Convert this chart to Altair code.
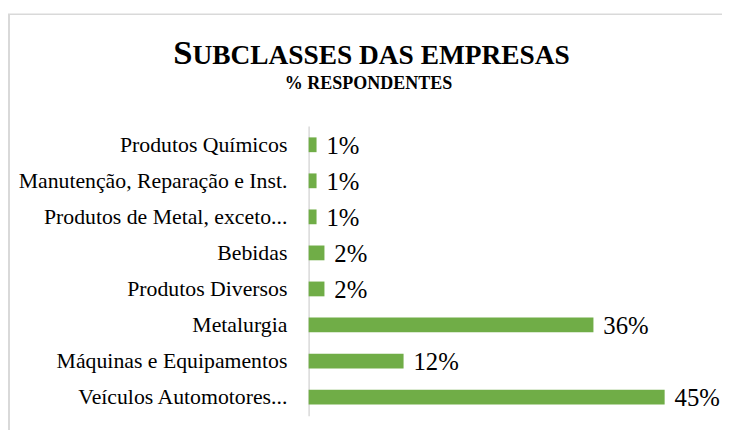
import altair as alt
import pandas as pd

categories = ["Produtos Químicos", "Manutenção, Reparação e Inst.", "Produtos de Metal, exceto...",
              "Bebidas", "Produtos Diversos", "Metalurgia", "Máquinas e Equipamentos",
              "Veículos Automotores..."]
values = [1, 1, 1, 2, 2, 36, 12, 45]
labels = [f"{v}%" for v in values]

title_first = "S"
title_rest = "UBCLASSES DAS EMPRESAS"
subtitle = "% RESPONDENTES"

df = pd.DataFrame({"cat": categories, "val": values, "label": labels})

FONT = "Liberation Serif"
PAD_LEFT = 304

base = alt.Chart(df).encode(
    y=alt.Y("cat:N", sort=categories,
            scale=alt.Scale(paddingInner=0.59, paddingOuter=0.315),
            axis=alt.Axis(title=None, labelFont=FONT, labelFontSize=22, labelColor="#000000",
                          labelPadding=22, ticks=False, domainColor="#d9d9d9", domainWidth=1.5,
                          labelLimit=400))
)

bars = base.mark_bar(color="#70AD47").encode(
    x=alt.X("val:Q", scale=alt.Scale(domain=[0, 45]), axis=None)
)

text = base.mark_text(align="left", dx=10, dy=9, font=FONT, fontSize=25, baseline="alphabetic",
                      color="#000000").encode(
    x=alt.X("val:Q"), text="label:N"
)

one = pd.DataFrame({"k": [0]})
left_border = alt.Chart(one).mark_rule(color="#d9d9d9", strokeWidth=2, clip=False).encode(
    x=alt.value(-PAD_LEFT + 1), y=alt.value(-113), y2=alt.value(330)
)
top_border = alt.Chart(one).mark_rule(color="#d9d9d9", strokeWidth=1.5, clip=False).encode(
    x=alt.value(-PAD_LEFT), x2=alt.value(430), y=alt.value(-113)
)

t1 = alt.Chart(one).mark_text(text=title_first, font=FONT, fontSize=35, fontWeight="bold",
                              align="left", baseline="alphabetic", color="#000000").encode(
    x=alt.value(175 - 8 - PAD_LEFT), y=alt.value(-63)
)
t2 = alt.Chart(one).mark_text(text=title_rest, font=FONT, fontSize=27.7, fontWeight="bold",
                              align="left", baseline="alphabetic", color="#000000").encode(
    x=alt.value(175 - 8 - PAD_LEFT + 19.5), y=alt.value(-63)
)
t3 = alt.Chart(one).mark_text(text=subtitle, font=FONT, fontSize=18.2, fontWeight="bold",
                              align="center", baseline="alphabetic", color="#000000").encode(
    x=alt.value(372.5 - 8 - PAD_LEFT), y=alt.value(-37)
)

chart = alt.layer(left_border, top_border, t1, t2, t3, bars, text).properties(
    width=360, height=293,
    autosize=alt.AutoSizeParams(type="none"),
    padding={"left": PAD_LEFT, "top": 117, "right": 58, "bottom": 12},
).configure_view(stroke=None)

chart.save("out.html", embed_options={"renderer": "svg", "actions": False})
